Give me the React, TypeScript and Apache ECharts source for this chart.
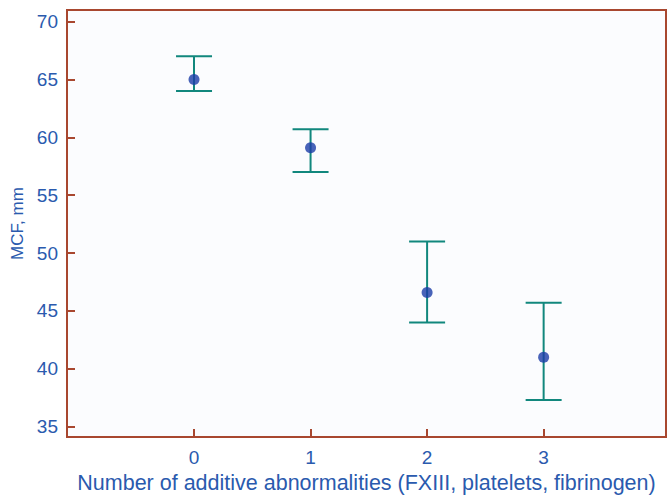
import React, { useEffect, useRef } from "react";
import * as echarts from "echarts";

const categories = [0, 1, 2, 3];
const means = [65.0, 59.1, 46.6, 41.0];
const upper = [67.0, 60.7, 51.0, 45.7];
const lower = [64.0, 57.0, 44.0, 37.3];
const yTicks = [35, 40, 45, 50, 55, 60, 65, 70];
const xTicks = [0, 1, 2, 3];

const AXIS = "#a8472f";
const TEXT = "#2a5aae";
const BAR = "#11877d";
const DOT = "#1b3ca8";
const FONT = "Liberation Sans, Arial, sans-serif";

export default function App() {
  const ref = useRef<HTMLDivElement>(null);
  useEffect(() => {
    const chart = echarts.init(ref.current!, null, { renderer: "svg" });
    const errData = categories.map((c, i) => [c, lower[i], upper[i]]);
    chart.setOption({
      animation: false,
      backgroundColor: "#ffffff",
      grid: {
        left: 67,
        right: 1,
        top: 10,
        bottom: 53,
        show: true,
        borderColor: AXIS,
        borderWidth: 2,
        backgroundColor: "#fbfcfe",
      },
      xAxis: {
        type: "value",
        min: -1.09,
        max: 4.05,
        name: "Number of additive abnormalities (FXIII, platelets, fibrinogen)",
        nameLocation: "middle",
        nameGap: 28,
        nameTextStyle: { color: TEXT, fontSize: 21.5, fontFamily: FONT },
        splitLine: { show: false },
        axisLine: { show: true, onZero: false, lineStyle: { color: AXIS, width: 2 } },
        axisTick: { show: true, inside: true, length: 8, customValues: xTicks, lineStyle: { color: AXIS, width: 2 } },
        axisLabel: {
          customValues: xTicks,
          color: TEXT,
          fontSize: 19,
          margin: 11,
          fontFamily: FONT,
        },
      },
      yAxis: {
        type: "value",
        min: 34.1,
        max: 71,
        name: "MCF, mm",
        nameLocation: "middle",
        nameGap: 38,
        nameTextStyle: { color: TEXT, fontSize: 17, fontFamily: FONT },
        splitLine: { show: false },
        axisLine: { show: true, onZero: false, lineStyle: { color: AXIS, width: 2 } },
        axisTick: { show: true, inside: true, length: 8, customValues: yTicks, lineStyle: { color: AXIS, width: 2 } },
        axisLabel: {
          customValues: yTicks,
          color: TEXT,
          fontSize: 19,
          margin: 9,
          fontFamily: FONT,
        },
      },
      series: [
        {
          type: "custom",
          data: errData,
          z: 2,
          renderItem: (params: any, api: any) => {
            const x = api.value(0);
            const lo = api.coord([x, api.value(1)]);
            const hi = api.coord([x, api.value(2)]);
            const hw = 18;
            const style = { stroke: BAR, lineWidth: 2 };
            return {
              type: "group",
              children: [
                { type: "line", shape: { x1: hi[0], y1: hi[1], x2: lo[0], y2: lo[1] }, style },
                { type: "line", shape: { x1: hi[0] - hw, y1: hi[1], x2: hi[0] + hw, y2: hi[1] }, style },
                { type: "line", shape: { x1: lo[0] - hw, y1: lo[1], x2: lo[0] + hw, y2: lo[1] }, style },
              ],
            };
          },
        },
        {
          type: "scatter",
          data: categories.map((c, i) => [c, means[i]]),
          symbol: "circle",
          symbolSize: 11,
          z: 3,
          itemStyle: { color: DOT },
        },
      ],
    });
    return () => chart.dispose();
  }, []);
  return (
    <div
      ref={ref}
      style={{ position: "absolute", left: 0, top: 0, width: 667, height: 499 }}
    />
  );
}
